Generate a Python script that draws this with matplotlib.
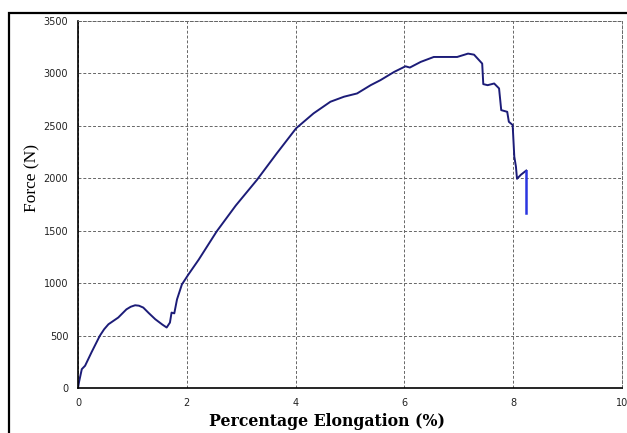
import matplotlib.pyplot as plt
from matplotlib.patches import Rectangle

# elongation (%) and force (N)
elong = [0.0, 0.02, 0.07, 0.13, 0.25, 0.40, 0.48, 0.56, 0.74, 0.89, 0.97, 1.05, 1.12,
         1.20, 1.30, 1.42, 1.55, 1.63, 1.69, 1.72, 1.77, 1.82, 1.91, 1.97, 2.03, 2.22,
         2.55, 2.90, 3.29, 3.65, 4.01, 4.33, 4.64, 4.89, 5.13, 5.38, 5.56, 5.81, 6.02,
         6.10, 6.30, 6.54, 6.97, 7.17, 7.28, 7.43, 7.45, 7.53, 7.65, 7.74, 7.78, 7.89,
         7.92, 7.99, 8.02, 8.05, 8.07, 8.14, 8.24]
force = [0, 60, 180, 212, 342, 497, 560, 608, 672, 750, 775, 789, 785,
         767, 715, 656, 605, 577, 624, 719, 712, 845, 988, 1035, 1083, 1225,
         1494, 1740, 1985, 2235, 2477, 2619, 2730, 2778, 2809, 2888, 2936, 3014, 3068,
         3056, 3110, 3157, 3157, 3189, 3179, 3094, 2898, 2888, 2904, 2857, 2650, 2634,
         2539, 2508, 2207, 2112, 1995, 2033, 2074]
# final break drop
break_x = [8.24, 8.24]
break_y = [2074, 1669]

xticks = [0, 2, 4, 6, 8, 10]
yticks = [0, 500, 1000, 1500, 2000, 2500, 3000, 3500]

fig = plt.figure(figsize=(6.27, 4.33), dpi=100)
fig.patches.append(Rectangle((9/627, -0.1), 1.2, 1 - 13/433 + 0.1, transform=fig.transFigure,
                             fill=False, edgecolor='black', linewidth=1.6))
ax = fig.add_axes([78/627, 1 - 388/433, 544/627, 367/433])

ax.plot(elong, force, color='#1c1c78', linewidth=1.4)
ax.plot(break_x, break_y, color='#2a35e0', linewidth=1.8)

ax.set_xlim(0, 10)
ax.set_ylim(0, 3500)
ax.set_xticks(xticks)
ax.set_yticks(yticks)
ax.grid(True, color='#666666', linestyle=(0, (3, 2)), linewidth=0.7)
ax.tick_params(length=0, labelsize=7, colors='#222222', pad=7)
for s in ['top', 'right']:
    ax.spines[s].set_linestyle((0, (3, 2)))
    ax.spines[s].set_color('#666666')
    ax.spines[s].set_linewidth(0.7)
for s in ['left', 'bottom']:
    ax.spines[s].set_linewidth(1.2)

fig.text(32/627, 1 - 178/433, 'Force (N)', rotation=90, ha='center', va='center',
         family='Liberation Serif', fontsize=12.5)
fig.text(327/627, 1 - 422/433, 'Percentage Elongation (%)', ha='center', va='center',
         family='DejaVu Serif', fontweight='bold', fontsize=11.3)

fig.savefig('out.png', dpi=100)
